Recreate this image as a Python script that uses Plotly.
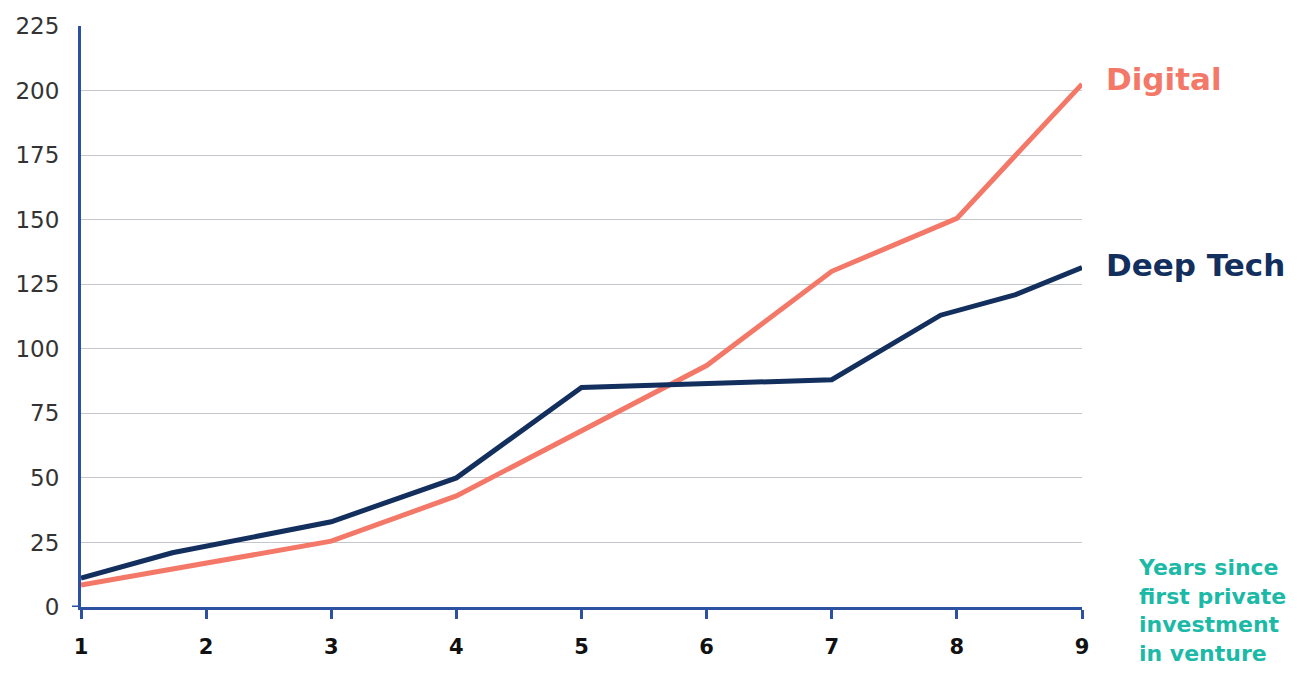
import plotly.graph_objects as go

digital_x = [1, 3, 4, 5, 6, 7, 8, 9]
digital_y = [8.5, 25.5, 43, 68, 93.5, 130, 150.5, 202.5]

deep_x = [1, 1.73, 3, 4, 5, 7, 7.87, 8.47, 9]
deep_y = [11.2, 21, 33, 50, 85, 88, 113, 121, 131.5]

x_ticks = [1, 2, 3, 4, 5, 6, 7, 8, 9]
y_ticks = [0, 25, 50, 75, 100, 125, 150, 175, 200, 225]

DIGITAL = "#F47868"
DEEP = "#132F5E"
AXIS = "#2B51A0"
TEAL = "#1DB9A7"
FONT = "DejaVu Sans"

fig = go.Figure()
fig.add_trace(go.Scatter(x=digital_x, y=digital_y, mode="lines",
                         line=dict(color=DIGITAL, width=5), showlegend=False, hoverinfo="skip"))
fig.add_trace(go.Scatter(x=deep_x, y=deep_y, mode="lines",
                         line=dict(color=DEEP, width=5), showlegend=False, hoverinfo="skip"))

fig.update_layout(
    width=1297, height=675,
    margin=dict(l=81, r=215, t=26, b=68, autoexpand=False),
    plot_bgcolor="white", paper_bgcolor="white",
    font=dict(family=FONT),
)
fig.update_xaxes(
    range=[1, 9], tickvals=x_ticks, ticktext=[str(v) for v in x_ticks],
    showgrid=False, zeroline=False, automargin=False,
    showline=True, linecolor=AXIS, linewidth=3,
    ticks="outside", ticklen=9, tickwidth=3, tickcolor=AXIS,
    ticklabelstandoff=10,
    tickfont=dict(family=FONT, size=21, color="#111111", weight="bold"),
)
fig.update_yaxes(
    range=[0, 225], tickvals=y_ticks,
    showgrid=True, gridcolor="#C3C7CB", gridwidth=1, zeroline=False, automargin=False,
    showline=True, linecolor=AXIS, linewidth=3,
    ticks="outside", ticklen=14, tickcolor="rgba(0,0,0,0)",
    tickfont=dict(family=FONT, size=23, color="#333333"),
)
# short extension of x axis line to the left of the y axis
fig.add_shape(type="line", xref="paper", yref="y", x0=-0.009, x1=0, y0=0, y1=0,
              line=dict(color=AXIS, width=3))

fig.add_annotation(x=1.022, y=digital_y[-1] + 2, xref="paper", yref="y",
                   text="<b>Digital</b>", showarrow=False, xanchor="left",
                   font=dict(family=FONT, size=31, color=DIGITAL))
fig.add_annotation(x=1.022, y=deep_y[-1] + 1, xref="paper", yref="y",
                   text="<b>Deep Tech</b>", showarrow=False, xanchor="left",
                   font=dict(family=FONT, size=31, color=DEEP))
fig.add_annotation(x=1.055, y=0.092, xref="paper", yref="paper",
                   text="<b>Years since<br>first private<br>investment<br>in venture</b>",
                   showarrow=False, xanchor="left", yanchor="top", align="left",
                   borderpad=0,
                   font=dict(family=FONT, size=22, color=TEAL))

fig.write_html("out.html", config={"displayModeBar": False},
               post_script="document.body.style.margin='0';document.body.style.overflow='hidden';")
